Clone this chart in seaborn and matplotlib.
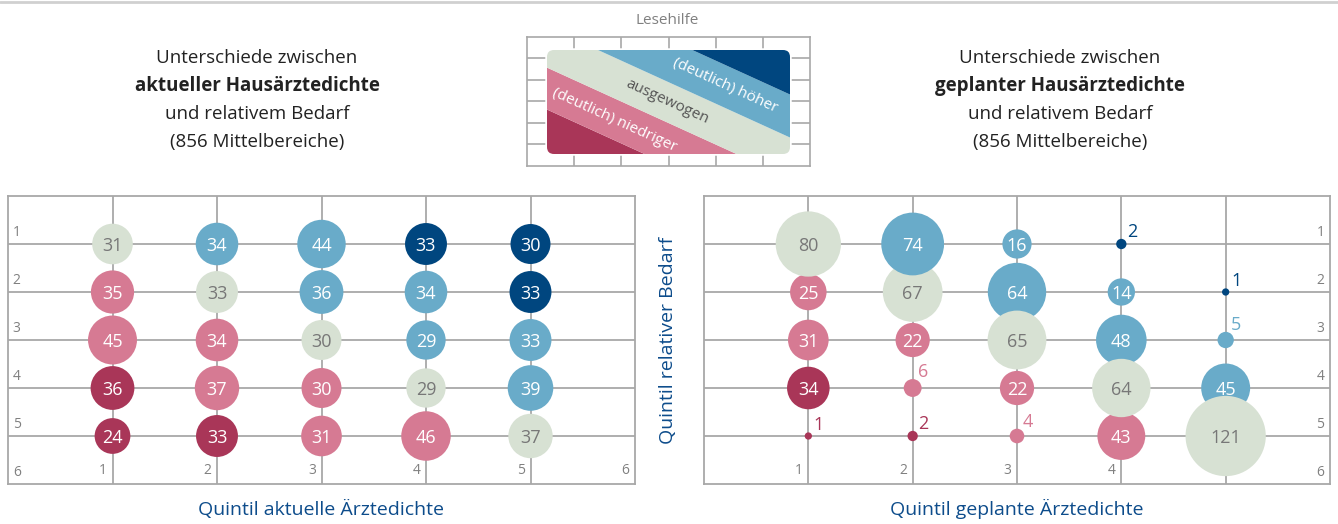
import numpy as np
import pandas as pd
import matplotlib
matplotlib.use('Agg')
import matplotlib.pyplot as plt
import seaborn as sns
from matplotlib.patches import FancyBboxPatch, Polygon
from matplotlib.lines import Line2D

sns.set_style('white')
plt.rcParams['font.family'] = ['Open Sans', 'DejaVu Sans']

# rows = Quintil relativer Bedarf 1..5, cols = Quintil Aerztedichte 1..5
quintile = [1, 2, 3, 4, 5]
aktuell = [[31, 34, 44, 33, 30],
           [35, 33, 36, 34, 33],
           [45, 34, 30, 29, 33],
           [36, 37, 30, 29, 39],
           [24, 33, 31, 46, 37]]
geplant = [[80, 74, 16, 2, 0],
           [25, 67, 64, 14, 1],
           [31, 22, 65, 48, 5],
           [34, 6, 22, 64, 45],
           [1, 2, 4, 43, 121]]

cat_order = ['deutlich niedriger', 'niedriger', 'ausgewogen', 'hoeher', 'deutlich hoeher']
palette = {'deutlich niedriger': '#a93658', 'niedriger': '#d67a93', 'ausgewogen': '#d7e1d3',
           'hoeher': '#69abc9', 'deutlich hoeher': '#00467f'}
GRID = '#a8a8a8'
BLUE_TXT = '#0d4c8b'
SCALE = 27.6  # points^2 per Mittelbereich


def to_long(mat):
    rows = []
    for i, yq in enumerate(quintile):
        for j, xq in enumerate(quintile):
            n = mat[i][j]
            if n <= 0:
                continue
            d = xq - yq
            if d >= 3:
                c = 'deutlich hoeher'
            elif d >= 1:
                c = 'hoeher'
            elif d == 0:
                c = 'ausgewogen'
            elif d >= -2:
                c = 'niedriger'
            else:
                c = 'deutlich niedriger'
            rows.append({'x': xq, 'y': yq, 'n': n, 'cat': c})
    # larger bubbles are drawn on top
    return pd.DataFrame(rows).sort_values('n', kind='stable')


def draw_panel(ax, df, side, xlabel, show_x6):
    ax.set_xlim(0, 6)
    ax.set_ylim(6, 0)
    for q in quintile:
        ax.axvline(q, color=GRID, lw=1.3, zorder=0.5)
        ax.axhline(q, color=GRID, lw=1.3, zorder=0.5)
    sns.scatterplot(data=df, x='x', y='y', size='n', sizes=(SCALE, SCALE * 121),
                    size_norm=(1, 121), hue='cat', hue_order=cat_order, palette=palette,
                    linewidth=0, alpha=1, legend=False, ax=ax, zorder=2)
    for _, r in df.iterrows():
        col = palette[r['cat']]
        if r['n'] >= 10:
            tc = '#777777' if r['cat'] == 'ausgewogen' else 'white'
            ax.text(r['x'], r['y'], str(r['n']), ha='center', va='center_baseline',
                    fontsize=13, color=tc, zorder=4)
        else:
            rad = np.sqrt(SCALE * r['n']) / 2
            ax.annotate(str(r['n']), xy=(r['x'], r['y']), xytext=(4, rad + 1.5),
                        textcoords='offset points', ha='left', va='baseline',
                        fontsize=13, color=col, zorder=4)
    # tick labels inside the frame
    for q in range(1, 7):
        if side == 'left':
            ax.annotate(str(q), xy=(0, q), xytext=(3.5, 3), textcoords='offset points',
                        ha='left', va='bottom', fontsize=10, color='#808080', zorder=0.8)
        else:
            ax.annotate(str(q), xy=(6, q), xytext=(-4, 3), textcoords='offset points',
                        ha='right', va='bottom', fontsize=10, color='#808080', zorder=0.8)
    xs = range(1, 7) if show_x6 else range(1, 6)
    for q in xs:
        ax.annotate(str(q), xy=(q, 6), xytext=(-4, 4), textcoords='offset points',
                    ha='right', va='bottom', fontsize=10, color='#808080', zorder=0.8)
    ax.set_xticks([])
    ax.set_yticks([])
    ax.set_xlabel('')
    ax.set_ylabel('')
    for sp in ax.spines.values():
        sp.set_color(GRID)
        sp.set_linewidth(1.3)
        sp.set_visible(True)
    ax.text(0.5, -0.087, xlabel, transform=ax.transAxes, ha='center', va='center',
            fontsize=14, color=BLUE_TXT)


W, H = 1338, 524
fig = plt.figure(figsize=(W / 100, H / 100), dpi=100)


def rect(x0, y0, x1, y1):
    return [x0 / W, 1 - y1 / H, (x1 - x0) / W, (y1 - y0) / H]


ax1 = fig.add_axes(rect(8, 196, 635, 484))
ax2 = fig.add_axes(rect(704, 196, 1330, 484))
draw_panel(ax1, to_long(aktuell), 'left', 'Quintil aktuelle Ärztedichte', True)
draw_panel(ax2, to_long(geplant), 'right', 'Quintil geplante Ärztedichte', False)

fig.text(668 / W, 1 - 340 / H, 'Quintil relativer Bedarf', rotation=90, ha='center',
         va='center', fontsize=14, color=BLUE_TXT)

# titles
for cx, word in [(257, 'aktueller'), (1060, 'geplanter')]:
    lines = [('Unterschiede zwischen', 'normal'), (word + ' Hausärztedichte', 'bold'),
             ('und relativem Bedarf', 'normal'), ('(856 Mittelbereiche)', 'normal')]
    for k, (txt, wt) in enumerate(lines):
        fig.text(cx / W, 1 - (58 + 28 * k) / H, txt, ha='center', va='center',
                 fontsize=13.5, fontweight=wt, color='#222222')

# top separator
fig.add_artist(Line2D([0, 1], [1 - 1.5 / H, 1 - 1.5 / H], transform=fig.transFigure,
                      color='#d0d0d0', lw=2))

# Lesehilfe
fig.text(667 / W, 1 - 21 / H, 'Lesehilfe', ha='center', va='center', fontsize=11,
         color='#808080')
LW, LH = 283, 129
axl = fig.add_axes(rect(527, 37, 527 + LW, 37 + LH))
axl.set_xlim(0, LW)
axl.set_ylim(LH, 0)
cw, rh = LW / 6, LH / 6
for k in range(1, 6):
    axl.axvline(k * cw, color=GRID, lw=1.2, zorder=0.5)
    axl.axhline(k * rh, color=GRID, lw=1.2, zorder=0.5)
axl.set_xticks([])
axl.set_yticks([])
for sp in axl.spines.values():
    sp.set_color(GRID)
    sp.set_linewidth(1.2)
bx0, by0, bx1, by1 = 20, 13, 263, 117
box = FancyBboxPatch((bx0, by0), bx1 - bx0, by1 - by0,
                     boxstyle='round,pad=0,rounding_size=7', fc='white', ec='white',
                     lw=2.5, zorder=1)
axl.add_patch(box)
bands = [(-100, -2.95, 'deutlich niedriger'), (-2.95, -1.0, 'niedriger'),
         (-1.0, 0.9, 'ausgewogen'), (0.9, 2.9, 'hoeher'), (2.9, 100, 'deutlich hoeher')]
y0, y1 = -20, LH + 20
for c1, c2, name in bands:
    pts = [(cw * (c1 + y0 / rh), y0), (cw * (c1 + y1 / rh), y1),
           (cw * (c2 + y1 / rh), y1), (cw * (c2 + y0 / rh), y0)]
    poly = Polygon(pts, closed=True, fc=palette[name], ec='none', zorder=2)
    axl.add_patch(poly)
    clip = FancyBboxPatch((bx0, by0), bx1 - bx0, by1 - by0,
                          boxstyle='round,pad=0,rounding_size=7', transform=axl.transData)
    poly.set_clip_path(clip)
ang = -np.degrees(np.arctan(rh / cw))
axl.text(725 - 527, 86 - 37, '(deutlich) höher', rotation=ang, rotation_mode='anchor',
         ha='center', va='center', fontsize=11, color='white', zorder=3)
axl.text(667 - 527, 102 - 37, 'ausgewogen', rotation=ang, rotation_mode='anchor',
         ha='center', va='center', fontsize=11, color='#555555', zorder=3)
axl.text(615 - 527, 120 - 37, '(deutlich) niedriger', rotation=ang, rotation_mode='anchor',
         ha='center', va='center', fontsize=11, color='white', zorder=3)

plt.savefig('out.png', dpi=100)
plt.close()
